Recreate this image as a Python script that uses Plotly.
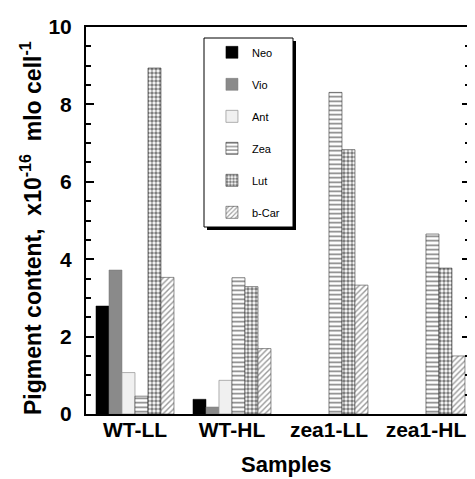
import plotly.graph_objects as go

samples = ["WT-LL", "WT-HL", "zea1-LL", "zea1-HL"]
pigments = ["Neo", "Vio", "Ant", "Zea", "Lut", "b-Car"]
neo = [2.79, 0.38, None, None]
vio = [3.72, 0.18, None, None]
ant = [1.07, 0.87, None, None]
zea = [0.46, 3.52, 8.31, 4.65]
lut = [8.94, 3.29, 6.83, 3.77]
bcar = [3.53, 1.69, 3.33, 1.50]
series = [neo, vio, ant, zea, lut, bcar]

styles = [
    dict(color="#000000", line=dict(color="#000000", width=0.5)),
    dict(color="#8a8a8a", line=dict(color="#777777", width=0.5)),
    dict(color="#f0f0f0", line=dict(color="#9a9a9a", width=0.8)),
    dict(color="white", line=dict(color="#333333", width=0.6),
         pattern=dict(shape="-", fgcolor="#000000", bgcolor="white", size=4.5, solidity=0.35)),
    dict(color="white", line=dict(color="#333333", width=0.6),
         pattern=dict(shape=".", fgcolor="#000000", bgcolor="white", size=4, solidity=0.6)),
    dict(color="white", line=dict(color="#444444", width=0.6),
         pattern=dict(shape="/", fgcolor="#333333", bgcolor="white", size=4, solidity=0.35)),
]

fig = go.Figure()
for name, vals, st in zip(pigments, series, styles):
    fig.add_trace(go.Bar(x=samples, y=vals, name=name, marker=st, legendgroup=name))

# page body has an 8px margin; compensate so plot area lands at x 86-470, y 27-414
font = "Liberation Sans, Arial, sans-serif"
PW, PH = 384, 387
fig.update_layout(
    width=467, height=471,
    margin=dict(l=78, r=5, t=19, b=65),
    paper_bgcolor="white", plot_bgcolor="white",
    barmode="group", bargap=0.196, bargroupgap=0,
    font=dict(family=font, color="black"),
    showlegend=True,
    legend=dict(x=0.328, y=0.972, xanchor="left", yanchor="top",
                bgcolor="rgba(0,0,0,0)", borderwidth=0,
                font=dict(size=11, family=font), tracegroupgap=13,
                traceorder="grouped"),
    xaxis=dict(showline=True, linecolor="black", linewidth=2, mirror=True,
               ticks="", tickfont=dict(size=21, family=font, weight="bold"),
               ticklabelstandoff=-4,
               range=[-0.505, 3.454], automargin=False),
    yaxis=dict(range=[0, 10], dtick=2, showline=True, linecolor="black", linewidth=2,
               mirror="ticks", ticks="inside", ticklen=8, tickwidth=2, tickcolor="black",
               minor=dict(dtick=0.5, ticks="inside", ticklen=5, tickwidth=1.5, tickcolor="black"),
               showgrid=False, zeroline=False, automargin=False,
               ticklabelstandoff=8,
               tickfont=dict(size=21, family=font, weight="bold")),
    annotations=[
        dict(text="Pigment content,&nbsp;&nbsp;x10<sup>-16</sup>&nbsp;&nbsp;mlo cell<sup>-1</sup>",
             textangle=-90, xref="paper", yref="paper",
             x=(31-86)/PW, y=(414-228)/PH, xanchor="center", yanchor="middle",
             showarrow=False, font=dict(size=23, family=font, weight="bold")),
        dict(text="Samples", xref="paper", yref="paper",
             x=(286-86)/PW, y=(414-464)/PH, xanchor="center", yanchor="middle",
             showarrow=False, font=dict(size=22, family=font, weight="bold")),
    ],
    shapes=[
        dict(type="rect", xref="paper", yref="paper",
             x0=(207-86)/PW, x1=(296-86)/PW, y0=(414-230)/PH, y1=(414-41)/PH,
             fillcolor="black", line=dict(width=0), layer="above"),
        dict(type="rect", xref="paper", yref="paper",
             x0=(204-86)/PW, x1=(293-86)/PW, y0=(414-227)/PH, y1=(414-38)/PH,
             fillcolor="white", line=dict(color="black", width=1), layer="above"),
    ],
)
fig.write_html("out.html")
